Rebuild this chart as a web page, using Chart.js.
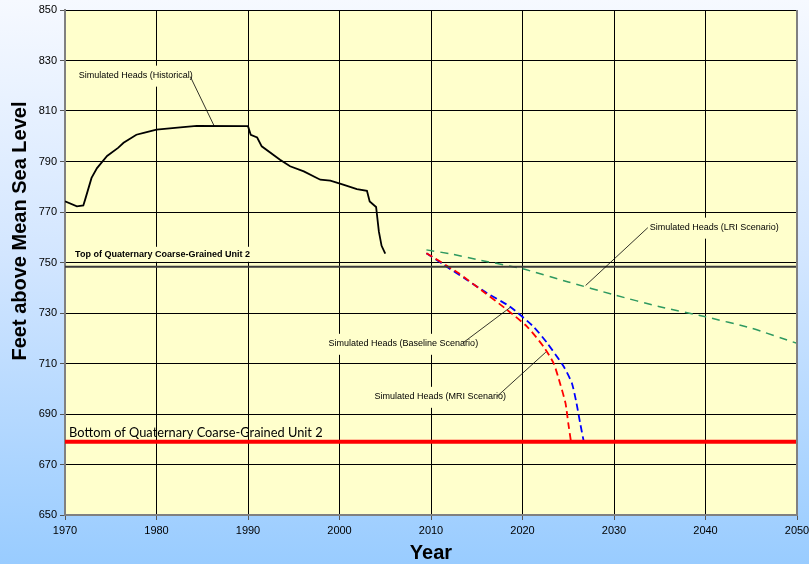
<!DOCTYPE html>
<html>
<head>
<meta charset="utf-8">
<script src="https://cdn.jsdelivr.net/npm/chart.js@4.4.1/dist/chart.umd.min.js"></script>
<style>
  html, body { margin: 0; padding: 0; background: #ffffff; }
  #c { display: block; }
</style>
</head>
<body>
<canvas id="c" width="809" height="564"></canvas>
<script>
// ---- Simulated water levels (feet above mean sea level) ----
const historicalYears = [1970.0, 1971.3, 1972.0, 1972.2, 1972.9, 1973.5, 1974.6, 1975.8, 1976.4, 1977.8,
  1978.6, 1980.0, 1982.6, 1984.4, 1990.0, 1990.3, 1991.0, 1991.5, 1993.5, 1994.6, 1996.1, 1997.9,
  1999.0, 2000.4, 2001.9, 2003.0, 2003.3, 2004.0, 2004.3, 2004.6, 2005.0];
const historicalHeads = [774.2, 772.2, 772.6, 774.9, 783.5, 787.4, 792.2, 795.4, 797.4, 800.6,
  801.3, 802.6, 803.5, 804.1, 804.0, 800.6, 799.5, 796.0, 790.7, 788.1, 786.1, 782.8,
  782.4, 780.8, 779.1, 778.4, 774.2, 772.0, 762.3, 756.6, 753.5];

const baselineYears = [2009.5, 2011.4, 2013.9, 2016.1, 2018.6, 2021.2, 2022.7, 2024.5, 2025.4, 2025.9, 2026.3, 2026.7];
const baselineHeads = [753.7, 749.1, 743.2, 737.9, 732.6, 724.6, 718.1, 708.8, 702.2, 694.3, 686.4, 679.0];

const mriYears = [2009.5, 2013.0, 2015.7, 2018.3, 2020.5, 2022.3, 2023.4, 2024.1, 2024.7, 2025.0, 2025.3];
const mriHeads = [753.7, 745.8, 738.5, 731.3, 724.6, 716.7, 710.1, 702.2, 694.3, 686.4, 679.0];

const lriYears = [2009.5, 2012, 2015, 2020, 2025, 2030, 2035, 2040, 2045, 2050];
const lriHeads = [755.0, 753.5, 751.2, 747.5, 742.3, 737.2, 732.5, 728.5, 724.0, 718.0];

// Hydrostratigraphic unit boundaries
const unitTop = 748.3;
const unitBottom = 679.0;

// Axis ranges and tick spacing
const yearRange = [1970, 2050];
const yearStep = 10;
const headRange = [650, 850];
const headStep = 20;

const pts = (xs, ys) => xs.map((x, i) => ({ x: x, y: ys[i] }));
const flat = (v) => [{ x: yearRange[0], y: v }, { x: yearRange[1], y: v }];

// Callout labels: text, anchor of the text (data units), leader line start/end (data units)
const callouts = [
  { text: 'Simulated Heads (Historical)', align: 'left', at: [1971.5, 824.0], from: [1983.7, 823.6], to: [1986.3, 804.1] },
  { text: 'Simulated Heads (LRI Scenario)', align: 'left', at: [2033.9, 763.8], from: [2033.7, 763.8], to: [2026.9, 740.9] },
  { text: 'Simulated Heads (Baseline Scenario)', align: 'right', at: [2015.15, 717.8], from: [2013.5, 718.2], to: [2018.65, 732.2] },
  { text: 'Simulated Heads (MRI Scenario)', align: 'right', at: [2018.2, 696.8], from: [2017.2, 696.9], to: [2022.55, 714.5] }
];

const PLOT_BG = '#FFFFCC';

const backdrop = {
  id: 'backdrop',
  beforeDraw(chart) {
    const { ctx, chartArea: a, width, height } = chart;
    ctx.save();
    const g = ctx.createLinearGradient(0, 0, 0, height);
    g.addColorStop(0, '#F6F9FF');
    g.addColorStop(0.45, '#D3E6FF');
    g.addColorStop(1, '#99CCFF');
    ctx.fillStyle = g;
    ctx.fillRect(0, 0, width, height);
    ctx.fillStyle = PLOT_BG;
    ctx.fillRect(a.left, a.top, a.right - a.left, a.bottom - a.top);
    ctx.restore();
  }
};

const labels = {
  id: 'labels',
  afterDatasetsDraw(chart) {
    const { ctx, chartArea: a } = chart;
    const xs = chart.scales.x, ys = chart.scales.y;
    const px = (v) => xs.getPixelForValue(v);
    const py = (v) => ys.getPixelForValue(v);
    ctx.save();

    // right frame edge
    ctx.strokeStyle = '#808080';
    ctx.lineWidth = 2;
    ctx.beginPath();
    ctx.moveTo(a.right, a.top);
    ctx.lineTo(a.right, a.bottom);
    ctx.stroke();

    // callouts
    ctx.font = '9px "Liberation Sans", Arial, sans-serif';
    ctx.textBaseline = 'middle';
    callouts.forEach(c => {
      const w = ctx.measureText(c.text).width;
      const tx = px(c.at[0]), ty = py(c.at[1]);
      const left = c.align === 'left' ? tx : tx - w;
      ctx.fillStyle = PLOT_BG;
      ctx.fillRect(left - 3, ty - 10, w + 6, 21);
      ctx.fillStyle = '#000';
      ctx.textAlign = 'left';
      ctx.fillText(c.text, left, ty);
      ctx.strokeStyle = '#000';
      ctx.lineWidth = 0.8;
      ctx.beginPath();
      ctx.moveTo(px(c.from[0]), py(c.from[1]));
      ctx.lineTo(px(c.to[0]), py(c.to[1]));
      ctx.stroke();
    });

    // unit top label
    ctx.font = 'bold 9px "Liberation Sans", Arial, sans-serif';
    const topText = 'Top of Quaternary Coarse-Grained Unit 2';
    const tw = ctx.measureText(topText).width;
    const tly = py(unitTop) - 12;
    ctx.fillStyle = PLOT_BG;
    ctx.fillRect(px(1971.1) - 3, tly - 8, tw + 6, 15);
    ctx.fillStyle = '#000';
    ctx.fillText(topText, px(1971.1), tly);

    // unit bottom label
    ctx.font = '12.8px Lato, "Noto Sans", sans-serif';
    ctx.fillStyle = '#000';
    ctx.textBaseline = 'alphabetic';
    ctx.fillText('Bottom of Quaternary Coarse-Grained Unit 2', px(1970.45), py(unitBottom) - 5);

    ctx.restore();
  },
  afterDraw(chart) {
    const { ctx, chartArea: a } = chart;
    ctx.save();
    ctx.fillStyle = '#000';
    ctx.font = 'bold 20px "Liberation Sans", Arial, sans-serif';
    ctx.textAlign = 'center';
    ctx.textBaseline = 'middle';
    ctx.fillText('Year', (a.left + a.right) / 2, 553);
    ctx.translate(20, 231);
    ctx.rotate(-Math.PI / 2);
    ctx.fillText('Feet above Mean Sea Level', 0, 0);
    ctx.restore();
  }
};

const tickFont = { family: '"Liberation Sans", Arial, sans-serif', size: 11 };

new Chart(document.getElementById('c'), {
  type: 'line',
  data: {
    datasets: [
      { data: flat(unitTop), borderColor: '#3a3a3a', borderWidth: 2, pointRadius: 0 },
      { data: flat(unitBottom), borderColor: '#FF0000', borderWidth: 4, pointRadius: 0 },
      { data: pts(lriYears, lriHeads), borderColor: '#2E9960', borderWidth: 1.5, borderDash: [8, 6], pointRadius: 0, tension: 0.2 },
      { data: pts(mriYears, mriHeads), borderColor: '#FF0000', borderWidth: 1.8, borderDash: [7, 4], pointRadius: 0, tension: 0.2 },
      { data: pts(baselineYears, baselineHeads), borderColor: '#0000FF', borderWidth: 1.8, borderDash: [7, 4], pointRadius: 0, tension: 0.2 },
      { data: pts(historicalYears, historicalHeads), borderColor: '#000000', borderWidth: 1.8, pointRadius: 0, tension: 0 }
    ]
  },
  options: {
    responsive: false,
    animation: false,
    events: [],
    layout: { padding: { top: 10, right: 12, left: 0, bottom: 0 } },
    plugins: { legend: { display: false }, tooltip: { enabled: false } },
    scales: {
      x: {
        type: 'linear',
        min: yearRange[0], max: yearRange[1],
        ticks: { stepSize: yearStep, color: '#000', font: tickFont, padding: 4, maxRotation: 0, callback: (v) => String(v) },
        grid: { color: '#000', lineWidth: 1, tickLength: 5, tickColor: '#555' },
        border: { color: '#808080', width: 2 },
        afterFit(s) { s.height = 49; s.paddingLeft = 0; s.paddingRight = 0; }
      },
      y: {
        type: 'linear',
        min: headRange[0], max: headRange[1],
        ticks: { stepSize: headStep, color: '#000', font: tickFont, padding: 3, callback: (v) => String(v) },
        grid: { color: '#000', lineWidth: 1, tickLength: 5, tickColor: '#555' },
        border: { color: '#808080', width: 2 },
        afterFit(s) { s.width = 65; s.paddingTop = 0; s.paddingBottom = 0; }
      }
    }
  },
  plugins: [backdrop, labels]
});
</script>
</body>
</html>
